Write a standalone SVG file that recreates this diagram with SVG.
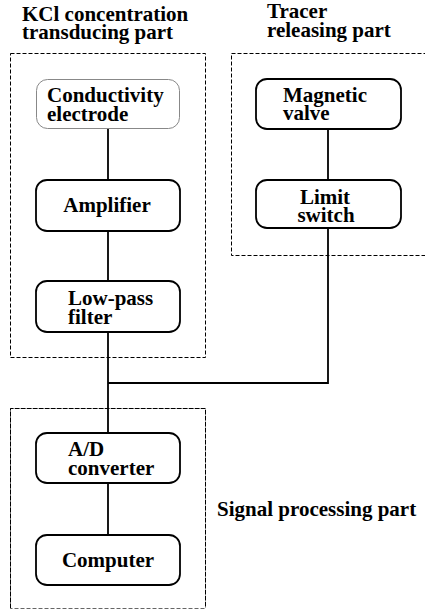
<svg xmlns="http://www.w3.org/2000/svg" width="425" height="610" viewBox="0 0 425 610">
<style>
text{font-family:"Liberation Serif","Times New Roman",serif;font-weight:bold;font-size:21px;fill:#000}
.grp{fill:none;stroke:#000;stroke-width:1;stroke-dasharray:4 2}
.node{fill:#fff;stroke:#000;stroke-width:1.8}
.light{fill:#fff;stroke:#888;stroke-width:1}
.c{text-anchor:middle}
.wire{fill:none;stroke:#000;stroke-width:1.8}
</style>
<rect width="425" height="610" fill="#fff"/>
<g id="group-kcl">
<rect class="grp" x="10.5" y="53.5" width="195" height="304"/>
<text x="22" y="21">KCl concentration<tspan x="22" dy="18">transducing part</tspan></text>
</g>
<g id="group-tracer">
<rect class="grp" x="231.5" y="53.5" width="200" height="202"/>
<text x="267" y="18">Tracer<tspan x="267" dy="19">releasing part</tspan></text>
</g>
<g id="group-signal">
<rect class="grp" x="10.5" y="408.5" width="195" height="200" stroke-opacity="0.6"/>
<path class="grp" d="M10.5 608 V408.5 H205.5 V608"/>
<text x="217" y="516">Signal processing part</text>
</g>
<g id="connectors">
<path class="wire" d="M108 129 V180 M108 231 V281 M108 332 V433 M108 483 V535 M328 129 V180 M328 228 V383 H108"/>
</g>
<g id="node-conductivity">
<rect class="light" x="36.5" y="79.5" width="143" height="49" rx="11"/>
<text x="47" y="102">Conductivity<tspan x="47" dy="19">electrode</tspan></text>
</g>
<g id="node-amplifier">
<rect class="node" x="36" y="180" width="144" height="51" rx="11"/>
<text class="c" x="107" y="212">Amplifier</text>
</g>
<g id="node-lowpass">
<rect class="node" x="36" y="281" width="144" height="51" rx="11"/>
<text x="68" y="305">Low-pass<tspan x="68" dy="19">filter</tspan></text>
</g>
<g id="node-magnetic">
<rect class="node" x="256" y="79" width="145" height="50" rx="11"/>
<text x="283" y="102">Magnetic<tspan x="283" dy="18">valve</tspan></text>
</g>
<g id="node-limit">
<rect class="node" x="256" y="180" width="145" height="48" rx="11"/>
<text class="c" x="325" y="204">Limit<tspan x="326" dy="18">switch</tspan></text>
</g>
<g id="node-ad">
<rect class="node" x="36" y="433" width="144" height="50" rx="11"/>
<text x="68" y="456">A/D<tspan x="68" dy="19">converter</tspan></text>
</g>
<g id="node-computer">
<rect class="node" x="36" y="535" width="144" height="50" rx="11"/>
<text class="c" x="108" y="567">Computer</text>
</g>
</svg>
